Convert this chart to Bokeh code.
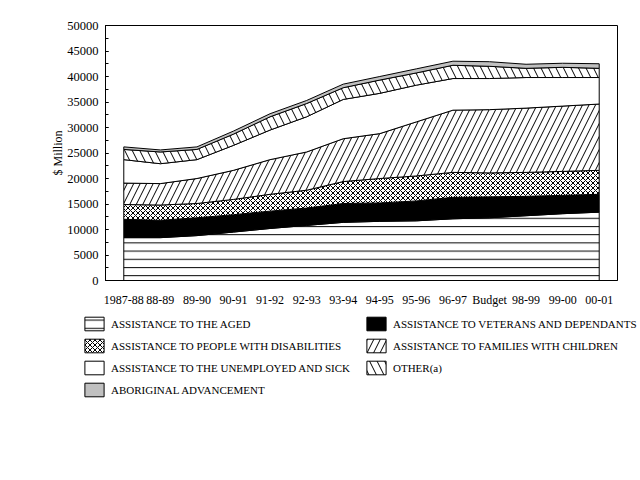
import numpy as np
from bokeh.plotting import figure
from bokeh.layouts import column, row
from bokeh.models import FactorRange, Range1d, SingleIntervalTicker, Legend, LegendItem
from bokeh.embed import file_html
from bokeh.resources import INLINE

years = ["1987-88", "88-89", "89-90", "90-91", "91-92", "92-93", "93-94",
         "94-95", "95-96", "96-97", "Budget", "98-99", "99-00", "00-01"]

aged = [8400, 8400, 8800, 9500, 10200, 10800, 11400, 11600, 11700, 12100, 12300, 12700, 13100, 13400]
veterans = [3600, 3400, 3500, 3400, 3400, 3400, 3700, 3600, 3900, 4200, 4100, 3800, 3600, 3500]
disabilities = [2900, 3000, 2800, 3000, 3300, 3500, 4300, 4800, 4900, 4900, 4700, 4700, 4700, 4700]
families = [4200, 4200, 4900, 5700, 6800, 7500, 8400, 8800, 10600, 12200, 12400, 12600, 12800, 13000]
unemployed = [4600, 3900, 3700, 4900, 5800, 6900, 7700, 7900, 7200, 6200, 6100, 6000, 5600, 5200]
other = [2000, 2300, 2000, 2200, 2600, 2600, 2300, 2600, 2400, 2600, 2400, 1800, 2000, 1800]
aboriginal = [500, 400, 500, 600, 600, 600, 700, 700, 800, 800, 900, 800, 800, 900]

labels = ["ASSISTANCE TO THE AGED",
          "ASSISTANCE TO VETERANS AND DEPENDANTS",
          "ASSISTANCE TO PEOPLE WITH DISABILITIES",
          "ASSISTANCE TO FAMILIES WITH CHILDREN",
          "ASSISTANCE TO THE UNEMPLOYED AND SICK",
          "OTHER(a)",
          "ABORIGINAL ADVANCEMENT"]

styles = [
    dict(fill_color="white", hatch_pattern="horizontal_line", hatch_scale=8.2),
    dict(fill_color="black"),
    dict(fill_color="white", hatch_pattern="diagonal_cross", hatch_scale=5),
    dict(fill_color="white", hatch_pattern="right_diagonal_line", hatch_scale=13),
    dict(fill_color="white"),
    dict(fill_color="white", hatch_pattern="left_diagonal_line", hatch_scale=15),
    dict(fill_color="#c0c0c0"),
]

series = [aged, veterans, disabilities, families, unemployed, other, aboriginal]

FONT = "Liberation Serif"

def style_kw(st):
    kw = dict(st)
    if "hatch_pattern" in kw:
        kw.update(hatch_color="black", hatch_weight=1)
    return kw

# stacked polygons built from the data
polys = []
lower = np.zeros(len(years))
for vals in series:
    upper = lower + np.array(vals, dtype=float)
    polys.append((list(years) + list(years[::-1]), list(upper) + list(lower[::-1])))
    lower = upper

xr = FactorRange(*years, range_padding=0)

# ---- main chart ----
p = figure(width=640, height=310, output_backend="svg", toolbar_location=None,
           x_range=xr, y_range=Range1d(0, 50000))
p.min_border_left = 105
p.min_border_right = 23
p.min_border_top = 25
p.min_border_bottom = 30
p.outline_line_color = "black"
p.outline_line_width = 1
p.background_fill_color = "white"
p.border_fill_color = "white"
p.xgrid.visible = False
p.ygrid.visible = False

for (xs, ys), st in zip(polys, styles):
    p.patch(x=xs, y=ys, line_color="black", line_width=1, **style_kw(st))

p.yaxis.ticker = SingleIntervalTicker(interval=5000, num_minor_ticks=2)
p.yaxis.major_tick_in = 3
p.yaxis.major_tick_out = 0
p.yaxis.minor_tick_in = 3
p.yaxis.minor_tick_out = 0
p.yaxis.major_label_standoff = 7
p.yaxis.axis_label = "$ Million"
p.yaxis.axis_label_text_font = FONT
p.yaxis.axis_label_text_font_size = "12px"
p.yaxis.axis_label_text_font_style = "normal"
p.yaxis.axis_label_text_color = "black"
p.yaxis.axis_label_standoff = -1
p.yaxis.major_label_text_font_size = "12.5px"

p.xaxis.major_tick_line_color = None
p.xaxis.minor_tick_line_color = None
p.xaxis.major_label_standoff = 6
p.xaxis.major_label_text_font_size = "12px"

for ax in (p.xaxis, p.yaxis):
    ax.major_label_text_font = FONT
    ax.major_label_text_color = "black"
    ax.axis_line_color = "black"

# ---- legend panel (its own figure, hidden helper glyphs for the swatches) ----
lg = figure(width=640, height=170, output_backend="svg", toolbar_location=None,
            x_axis_location=None, y_axis_location=None,
            x_range=xr, y_range=Range1d(-1, 0))
lg.min_border = 0
lg.min_border_left = 0
lg.min_border_right = 0
lg.min_border_top = 0
lg.min_border_bottom = 0
lg.outline_line_color = None
lg.xgrid.visible = False
lg.ygrid.visible = False
lg.background_fill_color = "white"
lg.border_fill_color = "white"

swatches = []
for (xs, ys), st in zip(polys, styles):
    r = lg.patch(x=xs, y=ys, line_color="black", line_width=1, **style_kw(st))
    r.visible = False
    swatches.append(r)

common = dict(border_line_color=None, background_fill_alpha=0, padding=0, margin=0,
              spacing=5, glyph_width=24, glyph_height=17, label_height=17,
              label_standoff=5, label_text_font=FONT, label_text_font_size="11px",
              label_text_color="black", inactive_fill_alpha=0)

col1 = [0, 2, 4, 6]
col2 = [1, 3, 5]
leg1 = Legend(items=[LegendItem(label=labels[i], renderers=[swatches[i]]) for i in col1],
              location=(82, 82), **common)
leg2 = Legend(items=[LegendItem(label=labels[i], renderers=[swatches[i]]) for i in col2],
              location=(364, 104), **common)
lg.add_layout(leg1)
lg.add_layout(leg2)

layout = column(p, row(lg), spacing=0)
open("out.html", "w").write(file_html(layout, INLINE))
